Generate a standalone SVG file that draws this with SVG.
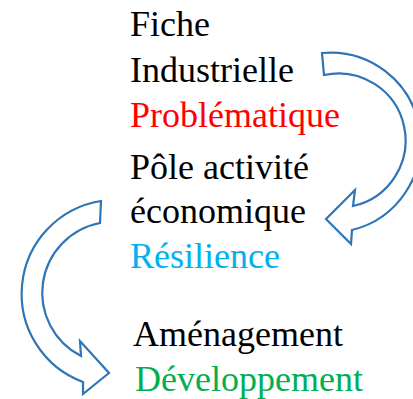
<svg xmlns="http://www.w3.org/2000/svg" width="413" height="399" viewBox="0 0 413 399">
<style>
.t{font-size:36px;fill:#000}
.red{fill:#FF0000}.blue{fill:#00B0F0}.green{fill:#00B050}
.arrow{fill:#fff;stroke:#2E75B6;stroke-width:2.2;stroke-linejoin:miter}
</style>
<g id="connectors">
<path class="arrow" d="M322,53 A90,90 0 0 1 352,230 L351,244 L326,219 L355,190 L353,206 A66,66 0 0 0 324,75 Z"/>
<path class="arrow" d="M101,201 A94,94 0 0 0 83,382 L83,394 L109,373 L80,341 L81,356 A71,71 0 0 1 100,223 Z"/>
</g>
<g id="node1">
<text class="t" font-family="'Liberation Serif', serif" x="130" y="36">Fiche</text>
<text class="t" font-family="'Liberation Serif', serif" x="130" y="82">Industrielle</text>
<text class="t red" font-family="'Liberation Serif', serif" x="130" y="127">Problématique</text>
</g>
<g id="node2">
<text class="t" font-family="'Liberation Serif', serif" x="130" y="179">Pôle activité</text>
<text class="t" font-family="'Liberation Serif', serif" x="130" y="223">économique</text>
<text class="t blue" font-family="'Liberation Serif', serif" x="130" y="268">Résilience</text>
</g>
<g id="node3">
<text class="t" font-family="'Liberation Serif', serif" x="133" y="346">Aménagement</text>
<text class="t green" font-family="'Liberation Serif', serif" x="135" y="391">Développement</text>
</g>
</svg>
